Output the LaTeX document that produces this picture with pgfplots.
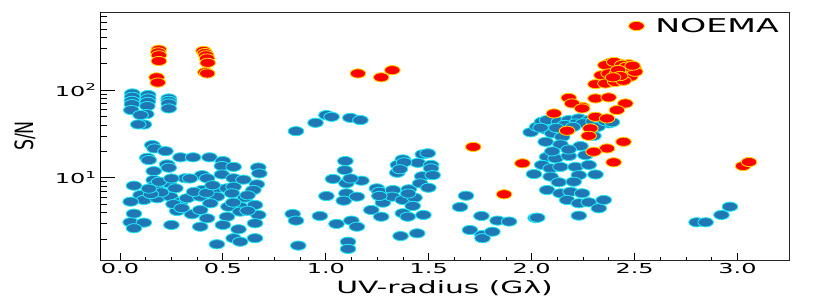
\documentclass[border=0pt]{standalone}
\usepackage{fontspec}
\setmainfont{DejaVu Sans}[FakeStretch=1.75]
\newfontfamily\plainfont{DejaVu Sans}
\usepackage{pgfplots}
\pgfplotsset{compat=1.18}
\definecolor{mblue}{HTML}{2177B4}
\definecolor{mcyan}{HTML}{1EE6F5}
\definecolor{myel}{HTML}{FFD500}
\definecolor{mred}{HTML}{FF0000}
\begin{document}
\begin{tikzpicture}
\useasboundingbox (0,0) rectangle (830pt,300pt);
\begin{axis}[
 at={(100pt,40pt)}, anchor=south west,
 scale only axis, width=689pt, height=248pt,
 xmin=-0.097, xmax=3.25, ymode=log, ymin=1.15, ymax=780,
 xtick={0,0.5,1,1.5,2,2.5,3},
 xticklabels={0.0,0.5,1.0,1.5,2.0,2.5,3.0},
 minor x tick num=3,
 xtick pos=bottom, xtick align=inside,
 ytick=\empty,
 major tick length=7.5pt, minor tick length=3.5pt,
 tick style={black, line width=0.8pt},
 axis line style={black!85, line width=0.9pt},
 tick label style={font=\fontsize{13.7}{16}\selectfont},
 xlabel={UV-radius (Gλ)},
 every axis x label/.style={at={(axis description cs:0.5,0)}, anchor=base, yshift=-33pt, font=\fontsize{17}{20}\selectfont},
 ylabel={\plainfont S/N},
 every axis y label/.style={at={(axis description cs:-0.109,0.5)}, anchor=center, xscale=1.45, rotate=90, font=\fontsize{17.4}{20}\selectfont},
 legend style={at={(axis description cs:1,1)}, anchor=north east, xshift=-5pt, yshift=-2pt, draw=none, fill=none, font=\fontsize{19}{22}\selectfont, /tikz/every odd column/.append style={column sep=9pt}},
 clip=true,
]
\addplot[only marks, mark=*, mark size=4.6pt, mark options={xscale=1.7, fill=mblue, draw=mcyan, line width=0.9pt}, forget plot] table[x=x,y=y] {
x y
0.060 91.7
0.060 84.0
0.058 75.5
0.058 69.2
0.055 59.2
0.137 88.0
0.137 80.4
0.135 73.5
0.133 65.7
0.128 53.3
0.116 40.5
0.089 40.6
0.100 52.0
0.237 80.4
0.237 75.5
0.237 70.5
0.237 61.8
0.157 23.6
0.168 21.6
0.221 20.1
0.133 16.9
0.140 15.9
0.294 17.1
0.355 17.1
0.435 17.1
0.500 15.5
0.229 14.2
0.237 13.0
0.164 11.9
0.495 13.6
0.552 13.3
0.672 13.1
0.677 11.2
0.318 9.85
0.399 10.7
0.423 9.85
0.495 10.9
0.552 9.85
0.164 9.42
0.237 8.63
0.068 8.11
0.173 8.26
0.269 7.57
0.181 7.24
0.399 7.24
0.471 7.57
0.520 7.57
0.552 7.89
0.665 8.41
0.648 7.24
0.100 6.35
0.116 5.57
0.052 5.33
0.181 5.83
0.245 6.08
0.294 5.33
0.326 5.83
0.390 6.08
0.471 6.08
0.544 6.64
0.608 5.92
0.656 4.89
0.584 4.67
0.527 4.67
0.439 5.11
0.278 4.17
0.350 3.83
0.390 4.28
0.423 3.44
0.520 3.59
0.584 4.10
0.672 3.76
0.068 3.89
0.052 3.10
0.116 3.07
0.068 2.65
0.250 2.89
0.390 2.76
0.500 2.89
0.576 2.58
0.656 3.02
0.552 2.04
0.584 1.86
0.656 2.04
0.471 1.74
0.190 9.0
0.200 6.8
0.150 6.5
0.260 5.0
0.300 4.5
0.360 6.9
0.420 6.7
0.450 8.2
0.620 6.3
0.600 9.5
0.620 4.2
0.550 5.2
0.340 9.8
0.250 9.8
0.140 7.5
0.855 34.0
0.950 42.4
1.003 51.9
1.028 49.6
1.119 48.3
1.168 45.5
1.095 15.5
1.092 12.2
1.035 9.69
1.100 8.63
1.173 9.25
1.003 6.18
1.100 6.64
1.087 5.47
1.151 6.08
0.839 3.86
0.855 3.24
0.971 3.66
1.052 2.97
1.124 3.24
1.151 2.76
0.866 1.68
1.108 1.86
1.108 1.54
1.221 4.28
1.269 3.59
1.248 7.57
1.261 6.92
1.326 7.24
1.277 5.19
1.323 6.08
1.374 5.57
1.403 7.38
1.431 5.92
1.422 4.76
1.374 3.93
1.398 3.59
1.474 3.76
1.363 2.16
1.444 2.32
1.374 16.2
1.350 14.0
1.347 11.4
1.471 18.5
1.495 19.0
1.447 14.8
1.511 14.0
1.511 12.8
1.468 10.4
1.519 10.7
1.458 8.63
1.498 7.69
1.681 6.23
1.652 4.63
1.700 2.53
1.761 2.22
1.761 2.04
1.809 2.42
1.756 3.66
1.834 3.24
1.890 3.16
2.019 3.47
1.380 15.0
1.360 12.5
1.260 6.2
1.400 6.6
1.120 9.8
1.995 33.0
2.027 38.2
2.051 43.6
2.075 45.5
2.132 43.6
2.180 45.5
2.229 47.5
2.277 45.5
2.342 43.6
2.374 41.7
2.068 35.6
2.100 32.1
2.148 29.3
2.213 41.7
2.043 37.2
2.068 25.7
2.140 24.0
2.237 23.0
2.075 17.3
2.116 16.6
2.180 17.7
2.261 18.1
2.051 14.0
2.092 12.8
2.140 13.3
2.213 13.3
2.277 14.0
2.011 11.0
2.092 10.3
2.229 10.7
2.310 10.9
2.132 8.87
2.204 9.00
2.075 7.24
2.140 6.64
2.189 6.92
2.172 5.57
2.229 5.11
2.277 5.24
2.326 4.48
2.350 5.57
2.245 6.64
2.027 3.50
2.229 3.69
2.160 40.0
2.250 42.0
2.300 44.0
2.120 37.0
2.200 38.0
2.100 20.0
2.180 21.0
2.300 30.0
2.320 38.0
2.360 44.0
2.390 43.0
2.801 3.10
2.845 3.10
2.922 3.76
2.963 4.67
};
\addplot[only marks, mark=*, mark size=4.6pt, mark options={xscale=1.7, fill=mred, draw=myel, line width=0.9pt}] table[x=x,y=y] {
x y
0.189 290
0.186 270
0.189 250
0.189 215
0.178 140
0.184 122
0.406 281
0.413 265
0.419 250
0.423 230
0.426 205
0.415 160
0.424 155
1.156 155
1.269 140
1.323 169
1.716 22.5
1.866 6.47
1.955 14.6
2.382 205
2.422 201
2.471 198
2.495 177
2.358 193
2.339 148
2.374 155
2.414 155
2.455 148
2.479 142
2.503 162
2.310 117
2.358 119
2.406 124
2.446 128
2.401 210
2.440 195
2.460 185
2.490 190
2.420 170
2.430 145
2.395 140
2.180 81.6
2.245 64.5
2.196 70.5
2.310 80.4
2.374 82.6
2.455 70.5
2.414 59.2
2.108 54.2
2.245 61.8
2.310 49.6
2.366 47.5
2.172 34.4
2.285 36.6
2.277 30.1
2.446 25.7
2.366 21.6
2.301 19.8
2.398 15.0
3.027 13.6
3.056 15.1
};
\addlegendentry{NOEMA}
\end{axis}
\begin{axis}[
 at={(100pt,40pt)}, anchor=south west,
 scale only axis, width=689pt, height=248pt,
 xmin=-0.097, xmax=3.25, ymode=log, ymin=1.15, ymax=780,
 hide x axis, axis y line*=left,
 ytick={10,100}, yticklabels={10\textsuperscript{1},10\textsuperscript{2}},
 minor ytick={2,3,4,5,6,7,8,9,20,30,40,50,60,70,80,90,200,300,400,500,600,700},
 ytick align=inside,
 major tick length=15pt, minor tick length=7pt,
 tick style={black, line width=0.8pt},
 axis line style={black, line width=0.9pt},
 tick label style={font=\fontsize{13.7}{16}\selectfont},
]
\addplot[draw=none, forget plot] coordinates {(1,10)};
\end{axis}
\end{tikzpicture}
\end{document}
